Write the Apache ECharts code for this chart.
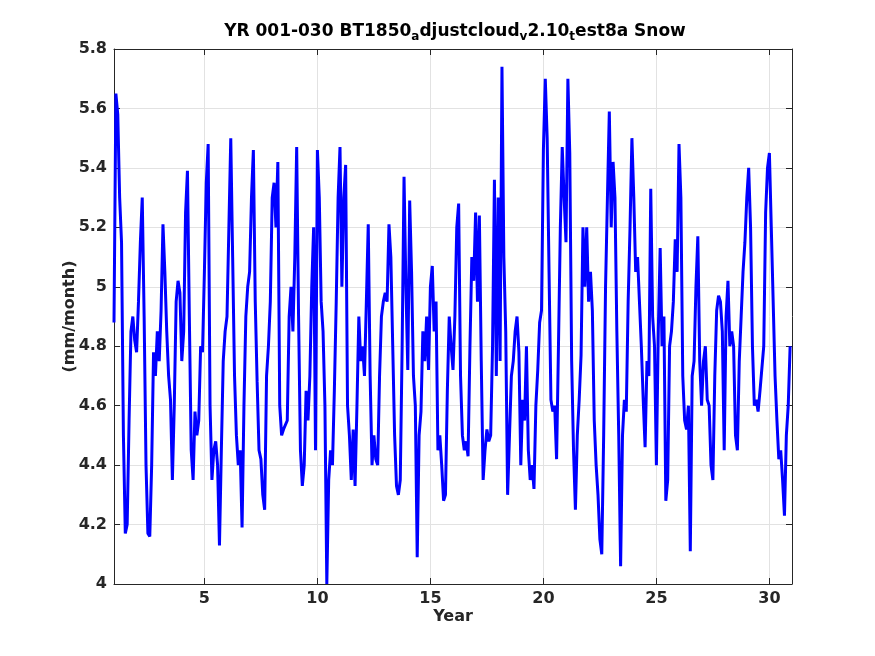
<!DOCTYPE html>
<html>
<head>
<meta charset="utf-8">
<script src="https://cdn.jsdelivr.net/npm/echarts@6/dist/echarts.min.js"></script>
<style>
html, body { margin: 0; padding: 0; background: #fff; }
#main { width: 875px; height: 656px; }
</style>
</head>
<body>
<div id="main"></div>
<script>
// monthly snow (mm/month), one row per model year
var snowYr01to10 = [
	4.88, 5.65, 5.58, 5.30, 5.15, 4.50, 4.17, 4.20, 4.55, 4.85, 4.90, 4.82,
	4.78, 4.95, 5.15, 5.30, 4.90, 4.40, 4.17, 4.16, 4.40, 4.78, 4.70, 4.85,
	4.75, 4.92, 5.21, 5.05, 4.85, 4.70, 4.62, 4.35, 4.60, 4.95, 5.02, 4.98,
	4.75, 4.85, 5.25, 5.39, 4.90, 4.45, 4.35, 4.58, 4.50, 4.55, 4.80, 4.78,
	5.05, 5.35, 5.48, 4.60, 4.35, 4.45, 4.48, 4.40, 4.13, 4.45, 4.75, 4.85,
	4.90, 5.20, 5.50, 5.10, 4.70, 4.50, 4.40, 4.45, 4.19, 4.60, 4.90, 5.00,
	5.05, 5.30, 5.46, 4.95, 4.68, 4.45, 4.42, 4.30, 4.25, 4.70, 4.80, 4.95,
	5.30, 5.35, 5.20, 5.42, 4.60, 4.50, 4.52, 4.52, 4.55, 4.90, 5.00, 4.85,
	5.10, 5.47, 4.90, 4.45, 4.33, 4.40, 4.65, 4.55, 4.70, 5.00, 5.20, 4.45,
	5.46, 5.30, 4.95, 4.85, 4.60, 4.00, 4.35, 4.45, 4.40, 4.65, 4.95, 5.30
];
var snowYr11to20 = [
	5.47, 5.00, 5.30, 5.41, 4.60, 4.50, 4.35, 4.52, 4.33, 4.60, 4.90, 4.75,
	4.80, 4.70, 4.95, 5.21, 4.70, 4.40, 4.50, 4.42, 4.40, 4.70, 4.90, 4.95,
	4.98, 4.95, 5.21, 5.10, 4.80, 4.50, 4.33, 4.30, 4.35, 4.80, 5.37, 5.00,
	4.72, 5.29, 5.05, 4.70, 4.60, 4.09, 4.50, 4.58, 4.85, 4.75, 4.90, 4.72,
	5.00, 5.07, 4.85, 4.95, 4.45, 4.50, 4.40, 4.28, 4.30, 4.65, 4.90, 4.80,
	4.72, 4.90, 5.20, 5.28, 4.70, 4.50, 4.45, 4.48, 4.43, 4.80, 5.10, 5.02,
	5.25, 4.95, 5.24, 4.75, 4.35, 4.45, 4.52, 4.48, 4.50, 4.80, 5.36, 4.70,
	5.30, 4.75, 5.74, 5.10, 4.85, 4.30, 4.50, 4.70, 4.75, 4.85, 4.90, 4.78,
	4.40, 4.62, 4.55, 4.80, 4.45, 4.35, 4.40, 4.32, 4.60, 4.72, 4.88, 4.92,
	5.46, 5.70, 5.50, 5.05, 4.62, 4.58, 4.60, 4.42, 4.80, 5.20, 5.47, 5.30
];
var snowYr21to30 = [
	5.15, 5.70, 5.45, 4.75, 4.45, 4.25, 4.50, 4.62, 4.77, 5.20, 5.00, 5.20,
	4.95, 5.05, 4.92, 4.55, 4.40, 4.30, 4.15, 4.10, 4.50, 5.00, 5.30, 5.59,
	5.20, 5.42, 5.30, 4.85, 4.50, 4.06, 4.50, 4.62, 4.58, 4.95, 5.20, 5.50,
	5.30, 5.05, 5.10, 4.95, 4.80, 4.62, 4.46, 4.75, 4.70, 5.33, 4.90, 4.80,
	4.40, 4.85, 5.13, 4.80, 4.90, 4.28, 4.35, 4.80, 4.85, 4.95, 5.16, 5.05,
	5.48, 5.30, 4.70, 4.55, 4.52, 4.60, 4.11, 4.70, 4.75, 5.00, 5.17, 4.75,
	4.60, 4.75, 4.80, 4.62, 4.60, 4.40, 4.35, 4.70, 4.92, 4.97, 4.95, 4.85,
	4.45, 4.90, 5.02, 4.80, 4.85, 4.80, 4.50, 4.45, 4.75, 4.90, 5.05, 5.15,
	5.30, 5.40, 5.20, 4.80, 4.60, 4.62, 4.58, 4.65, 4.65, 4.80, 5.25, 5.40,
	5.45, 5.20, 5.20, 4.70, 4.55, 4.42, 4.45, 4.35, 4.23, 4.50, 4.60, 4.80
];
var firstYear = 1;
var xTicks = [5, 10, 15, 20, 25, 30];
var yTicks = [4, 4.2, 4.4, 4.6, 4.8, 5, 5.2, 5.4, 5.6, 5.8];

var AXIS_COLOR = '#262626';
var FONT = 'DejaVu Sans';

var snow = snowYr01to10.concat(snowYr11to20, snowYr21to30);
var data = snow.map(function(v, i) {
	return [firstYear + i / 12, v];
});

function labelStyle(show) {
	return {
		show: show,
		color: AXIS_COLOR,
		fontFamily: FONT,
		fontWeight: 'bold',
		fontSize: 16,
		margin: 7
	};
}

var nameStyle = {
	color: AXIS_COLOR,
	fontFamily: FONT,
	fontWeight: 'bold',
	fontSize: 16
};

var chart = echarts.init(document.getElementById('main'), null, { renderer: 'canvas' });
var option = {
	animation: false,
	backgroundColor: '#fff',
	title: {
		text: 'YR 001-030 BT1850{s|a}djustcloud{s|v}2.10{s|t}est8a Snow',
		left: 450,
		top: 16,
		textAlign: 'center',
		textStyle: {
			color: '#000',
			fontFamily: FONT,
			fontWeight: 'bold',
			fontSize: 17,
			lineHeight: 22,
			rich: {
				s: {
					color: '#000',
					fontFamily: FONT,
					fontWeight: 'bold',
					fontSize: 12,
					lineHeight: 12,
					verticalAlign: 'bottom'
				}
			}
		}
	},
	grid: {
		left: 114,
		right: 83,
		top: 49,
		bottom: 72,
		containLabel: false
	},
	xAxis: [{
		type: 'value',
		position: 'bottom',
		min: 1,
		max: 31,
		name: 'Year',
		nameLocation: 'middle',
		nameGap: 25,
		nameMoveOverlap: false,
		nameTextStyle: nameStyle,
		axisLine: { show: true, lineStyle: { color: AXIS_COLOR, width: 1 } },
		axisTick: { show: true, inside: true, length: 6, customValues: xTicks, lineStyle: { color: AXIS_COLOR } },
		axisLabel: Object.assign(labelStyle(true), { customValues: xTicks }),
		splitLine: { show: true, lineStyle: { color: '#e2e2e2', width: 1 } }
	}, {
		type: 'value',
		position: 'top',
		min: 1,
		max: 31,
		axisLine: { show: true, lineStyle: { color: AXIS_COLOR, width: 1 } },
		axisTick: { show: true, inside: true, length: 6, customValues: xTicks, lineStyle: { color: AXIS_COLOR } },
		axisLabel: { show: false, customValues: xTicks },
		splitLine: { show: false }
	}],
	yAxis: [{
		type: 'value',
		position: 'left',
		min: 4,
		max: 5.8,
		name: '(mm/month)',
		nameLocation: 'middle',
		nameGap: 36,
		nameMoveOverlap: false,
		nameTextStyle: nameStyle,
		axisLine: { show: true, lineStyle: { color: AXIS_COLOR, width: 1 } },
		axisTick: { show: true, inside: true, length: 6, customValues: yTicks, lineStyle: { color: AXIS_COLOR } },
		axisLabel: Object.assign(labelStyle(true), {
			customValues: yTicks,
			formatter: function(v) { return String(Math.round(v * 10) / 10); }
		}),
		splitLine: { show: true, lineStyle: { color: '#e2e2e2', width: 1 } }
	}, {
		type: 'value',
		position: 'right',
		min: 4,
		max: 5.8,
		axisLine: { show: true, lineStyle: { color: AXIS_COLOR, width: 1 } },
		axisTick: { show: true, inside: true, length: 6, customValues: yTicks, lineStyle: { color: AXIS_COLOR } },
		axisLabel: { show: false, customValues: yTicks },
		splitLine: { show: false }
	}],
	series: [{
		type: 'line',
		xAxisIndex: 0,
		yAxisIndex: 0,
		data: data,
		showSymbol: false,
		clip: true,
		lineStyle: { color: '#0000ff', width: 3 }
	}]
};
chart.setOption(option);
</script>
</body>
</html>
